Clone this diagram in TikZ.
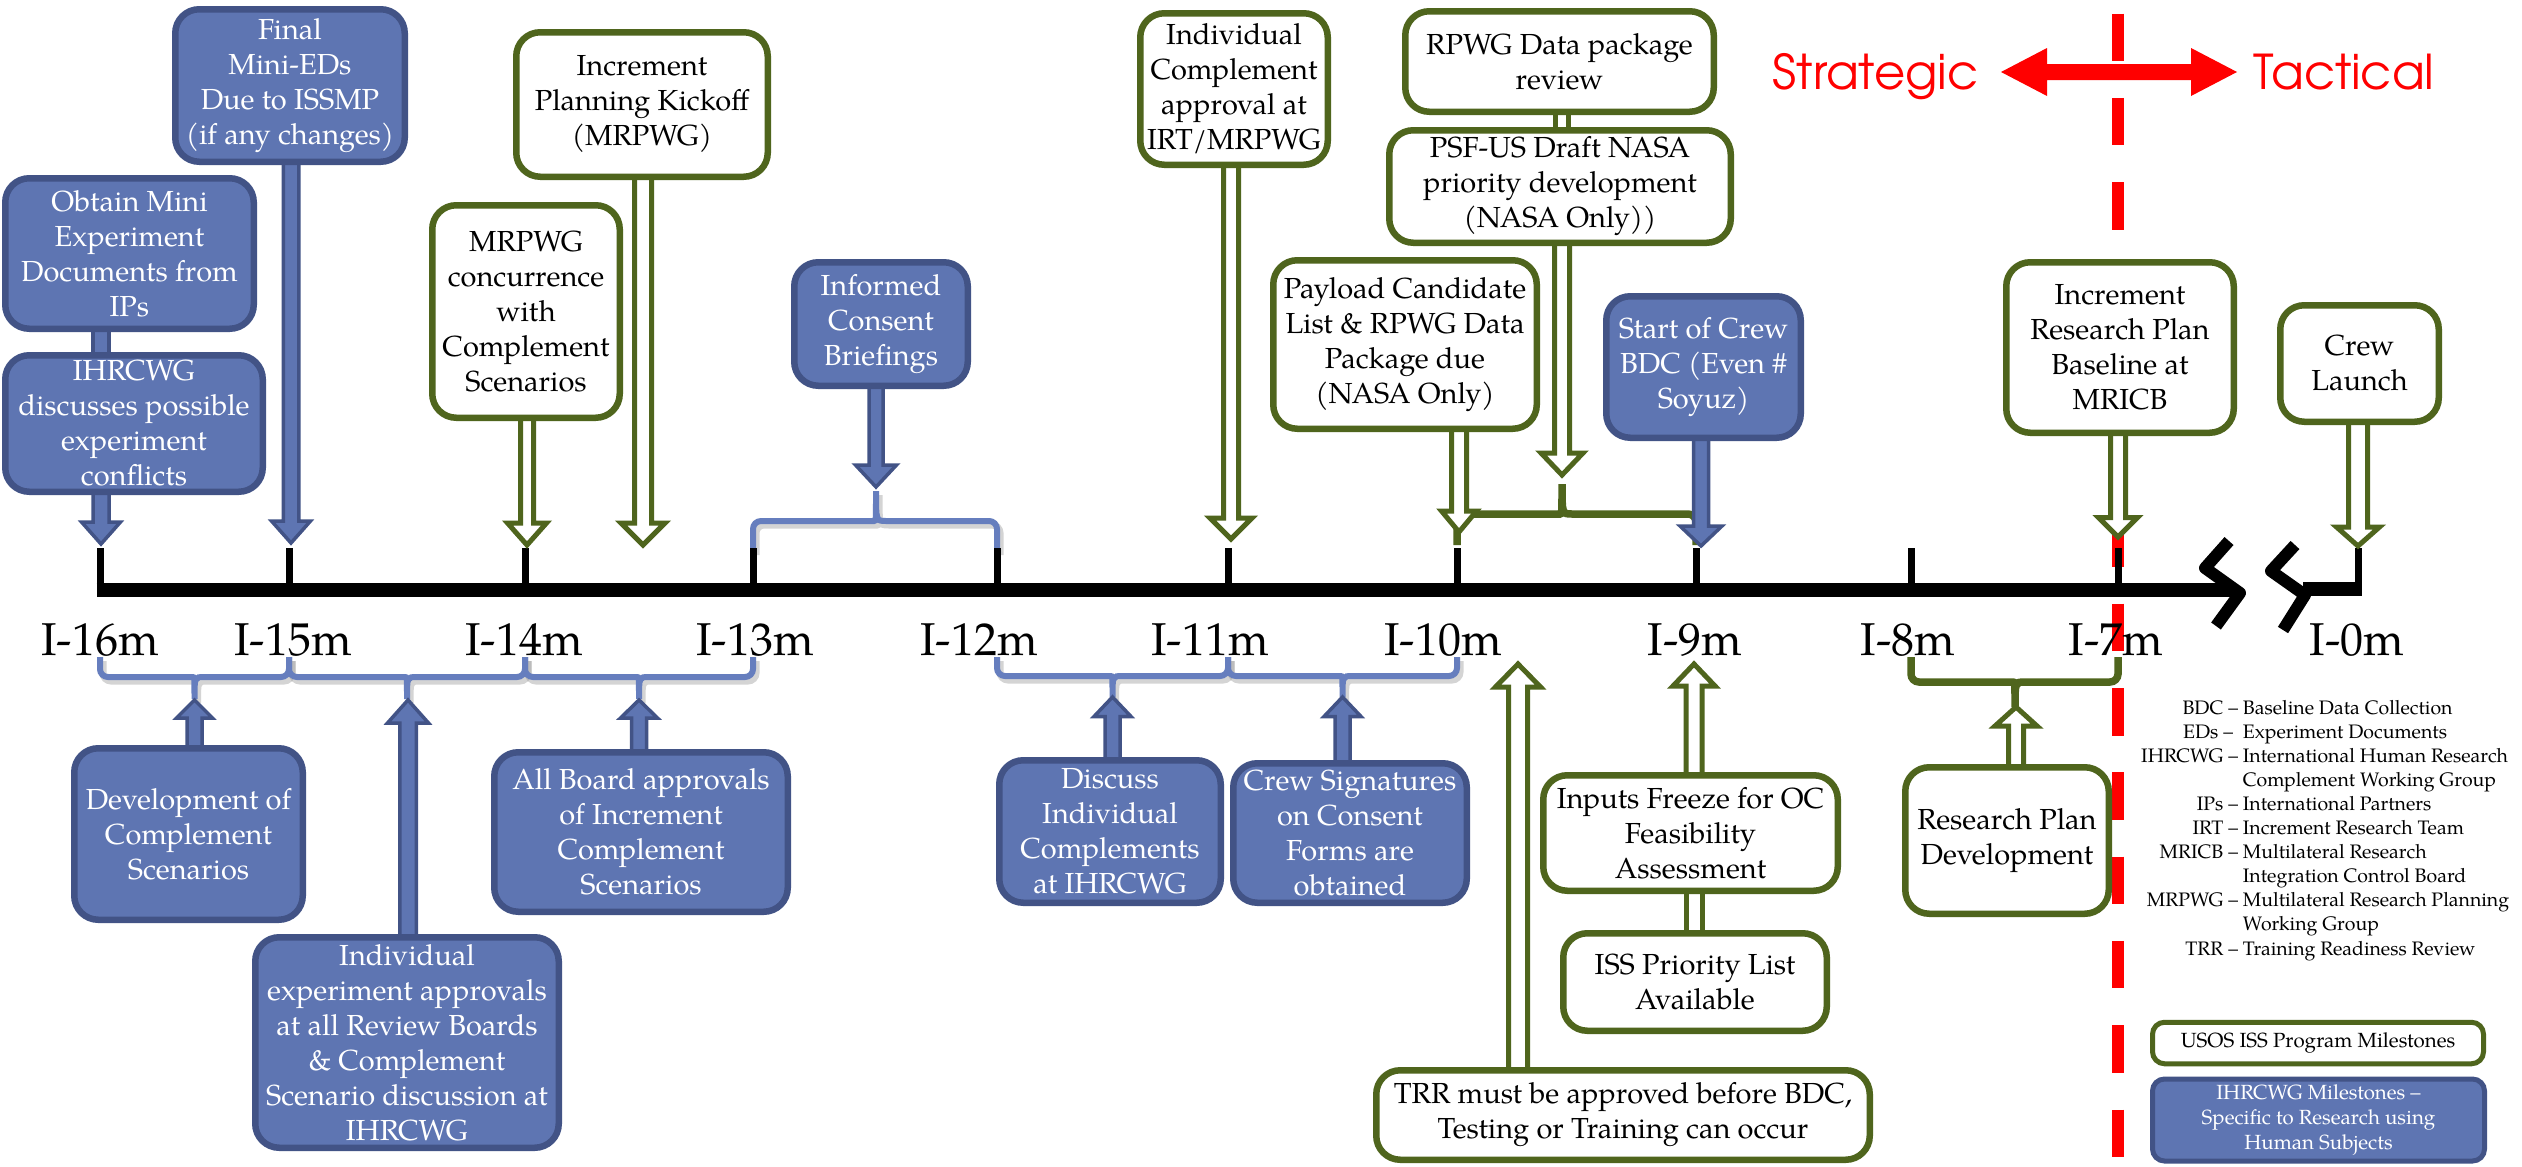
\documentclass[tikz,border=0pt]{standalone}
\usepackage{fontspec}
\setmainfont{TeX Gyre Pagella}
\newfontfamily\gothicfont{TeX Gyre Adventor}
\usetikzlibrary{calc}
\pgfdeclarelayer{bg}
\pgfdeclarelayer{mid}
\pgfsetlayers{bg,mid,main}
\definecolor{bfill}{RGB}{94,117,178}
\definecolor{bline}{RGB}{66,83,134}
\definecolor{bbrace}{RGB}{102,126,190}
\definecolor{gline}{RGB}{79,101,29}
\definecolor{bshadow}{RGB}{160,160,160}

% vertical block arrows: [style]{start}{tip}{shaft half width}{head half width}{head length}
\newcommand\blkdown[6][]{%
  \draw[#1] let \p1=(#2), \p2=(#3) in
    (\x2-#4,\y1) -- (\x2-#4,\y2+#6) -- (\x2-#5,\y2+#6) -- (\x2,\y2)
    -- (\x2+#5,\y2+#6) -- (\x2+#4,\y2+#6) -- (\x2+#4,\y1) -- cycle;}
\newcommand\blkup[6][]{%
  \draw[#1] let \p1=(#2), \p2=(#3) in
    (\x2-#4,\y1) -- (\x2-#4,\y2-#6) -- (\x2-#5,\y2-#6) -- (\x2,\y2)
    -- (\x2+#5,\y2-#6) -- (\x2+#4,\y2-#6) -- (\x2+#4,\y1) -- cycle;}
% plain shaft joining two stacked boxes: [style]{upper}{lower}{x reference}{half width}
\newcommand\boxlink[5][]{%
  \draw[#1] let \p1=(#2), \p2=(#3), \p3=(#4) in (\x3-#5,\y1) rectangle (\x3+#5,\y2);}
% horizontal brace: [style]{x1}{x2}{x of pip}{y of ends}{y of bar}{y of pip}
\newcommand\bracepath[7][]{%
  \draw[#1,rounded corners=8pt] (#2,#5) -- (#2,#6) -- ({#4-10},#6)
    [sharp corners] .. controls (#4,#6) .. (#4,#7) .. controls (#4,#6) .. ({#4+10},#6)
    [rounded corners=8pt] -- (#3,#6) -- (#3,#5);}

\begin{document}
\begin{tikzpicture}[x=1pt,y=-1pt,
  box/.style={rounded corners=24pt, line width=6.5pt, align=center, inner sep=0pt,
    font=\fontsize{29}{35}\selectfont},
  bbox/.style={box, draw=bline, fill=bfill, text=white},
  gbox/.style={box, draw=gline, fill=white, text=black},
  legbox/.style={rounded corners=12pt, line width=5pt, align=center, inner sep=0pt,
    font=\fontsize{20.5}{25.3}\selectfont},
  barrow/.style={draw=bline, fill=bfill, line width=3.5pt, line join=miter},
  garrow/.style={draw=gline, fill=white, line width=5pt, line join=miter},
  bbr/.style={draw=bbrace, line width=6pt},
  bbrshadow/.style={draw=bshadow, line width=7pt, opacity=0.45, shift={(3,4)}},
  gbr/.style={draw=gline, line width=7.5pt},
  tickline/.style={line width=7pt},
  axislabel/.style={font=\fontsize{46}{46}\selectfont, anchor=base, inner sep=0pt},
  sidelabel/.style={font=\gothicfont\fontsize{48}{48}\selectfont, text=red, anchor=base west, inner sep=0pt},
]
\useasboundingbox (0,0) rectangle (2522,1167);

% ---------- milestone boxes above the time line ----------
\node[bbox, minimum width=248.5, minimum height=150.5] (obtain) at (129.5,253.5)
  {Obtain Mini\\Experiment\\Documents from\\IPs};
\node[bbox, minimum width=257.5, minimum height=136.5] (ihrc) at (134,423.5)
  {IHRCWG\\discusses possible\\experiment\\conflicts};
\node[bbox, minimum width=229.5, minimum height=152.5] (final) at (290,85.5)
  {Final\\Mini-EDs\\Due to ISSMP\\(if any changes)};
\node[gbox, minimum width=187.5, minimum height=212.5] (mrpwg) at (526,311.5)
  {MRPWG\\concurrence\\with\\Complement\\Scenarios};
\node[gbox, minimum width=251.5, minimum height=144.5] (kickoff) at (642,104.5)
  {Increment\\Planning Kickoff\\(MRPWG)};
\node[bbox, minimum width=173.5, minimum height=123.5] (informed) at (881,324)
  {Informed\\Consent\\Briefings};
\node[gbox, minimum width=187.5, minimum height=151.5] (indcomp) at (1234,89)
  {Individual\\Complement\\approval at\\IRT/MRPWG};
\node[gbox, minimum width=308.5, minimum height=100.5] (rpwg) at (1559.5,61.5)
  {RPWG Data package\\review};
\node[gbox, minimum width=341.5, minimum height=112.5] (psf) at (1560,186.5)
  {PSF-US Draft NASA\\priority development\\(NASA Only))};
\node[gbox, minimum width=263.5, minimum height=168.5] (payload) at (1405,344.5)
  {Payload Candidate\\List \& RPWG Data\\Package due\\(NASA Only)};
\node[bbox, minimum width=194.5, minimum height=141.5] (crewbdc) at (1703.5,367)
  {Start of Crew\\BDC (Even \#\\Soyuz)};
\node[gbox, minimum width=227.5, minimum height=170.5] (irp) at (2120,347.5)
  {Increment\\Research Plan\\Baseline at\\MRICB};
\node[gbox, minimum width=158.5, minimum height=116.5] (launch) at (2359.5,363.5)
  {Crew\\Launch};

% ---------- milestone boxes below the time line ----------
\node[bbox, minimum width=228.5, minimum height=171.5] (devel) at (188.5,834)
  {Development of\\Complement\\Scenarios};
\node[bbox, minimum width=303.5, minimum height=210.5] (indiv) at (407,1042.5)
  {Individual\\experiment approvals\\at all Review Boards\\\& Complement\\Scenario discussion at\\IHRCWG};
\node[bbox, minimum width=293.5, minimum height=159.5] (allboard) at (641,832)
  {All Board approvals\\of Increment\\Complement\\Scenarios};
\node[bbox, minimum width=221.5, minimum height=142.5] (discuss) at (1110,831.5)
  {Discuss\\Individual\\Complements\\at IHRCWG};
\node[bbox, minimum width=233.5, minimum height=139.5] (crewsig) at (1350,833)
  {Crew Signatures\\on Consent\\Forms are\\obtained};
\node[gbox, minimum width=294.5, minimum height=115.5] (inputs) at (1690.5,833)
  {Inputs Freeze for OC\\Feasibility\\Assessment};
\node[gbox, minimum width=263.5, minimum height=97.5] (iss) at (1695,982)
  {ISS Priority List\\Available};
\node[gbox, minimum width=493.5, minimum height=89.5] (trr) at (1623,1115)
  {TRR must be approved before BDC,\\Testing or Training can occur};
\node[gbox, minimum width=203.5, minimum height=146.5] (rpd) at (2007,840.5)
  {Research Plan\\Development};

% ---------- arrow tips on the time line ----------
\coordinate (p16) at (101,544);
\coordinate (p15) at (291,543);
\coordinate (p14) at (527,545);
\coordinate (kick) at (643,545);
\coordinate (pIC) at (876,487);
\coordinate (p11) at (1231,539);
\coordinate (pPL) at (1459,532);
\coordinate (pPSF) at (1562,475);
\coordinate (pBDC) at (1701,546);
\coordinate (pIRP) at (2118,537);
\coordinate (p0) at (2358,546);
\coordinate (uDev) at (194.5,700);
\coordinate (uInd) at (408,700);
\coordinate (uAll) at (639,700);
\coordinate (uDis) at (1112.5,697);
\coordinate (uSig) at (1342.5,697);
\coordinate (uTRR) at (1518,664);
\coordinate (uInp) at (1694,664);
\coordinate (uRPD) at (2016,707);

\begin{pgfonlayer}{mid}
  % blue milestone arrows
  \boxlink[barrow]{obtain.center}{ihrc.center}{p16}{8pt}
  \blkdown[barrow]{ihrc.center}{p16}{8pt}{19.5pt}{22pt}
  \blkdown[barrow]{final.center}{p15}{7.75pt}{19.5pt}{22pt}
  \blkdown[barrow]{informed.center}{pIC}{7pt}{20.5pt}{22pt}
  \blkdown[barrow]{crewbdc.center}{pBDC}{7.5pt}{21pt}{20pt}
  \blkup[barrow]{devel.center}{uDev}{7.5pt}{18pt}{18pt}
  \blkup[barrow]{indiv.center}{uInd}{8.25pt}{20.5pt}{23pt}
  \blkup[barrow]{allboard.center}{uAll}{7.5pt}{18.5pt}{18pt}
  \blkup[barrow]{discuss.center}{uDis}{7.5pt}{18.5pt}{19.5pt}
  \blkup[barrow]{crewsig.center}{uSig}{7.5pt}{18.5pt}{19.5pt}
  % green hollow milestone arrows
  \blkdown[garrow]{mrpwg.center}{p14}{6.5pt}{19.5pt}{22pt}
  \blkdown[garrow]{kickoff.center}{kick}{8.5pt}{22pt}{22pt}
  \blkdown[garrow]{indcomp.center}{p11}{7.5pt}{21pt}{21pt}
  \boxlink[garrow]{rpwg.center}{psf.center}{pPSF}{6.5pt}
  \blkdown[garrow]{psf.center}{pPSF}{7.5pt}{21pt}{22pt}
  \blkdown[garrow]{payload.center}{pPL}{7.5pt}{17.5pt}{21pt}
  \blkdown[garrow]{irp.center}{pIRP}{7.5pt}{19.5pt}{19.5pt}
  \blkdown[garrow]{launch.center}{p0}{9.5pt}{21.5pt}{19pt}
  \blkup[garrow]{trr.center}{uTRR}{9.5pt}{22.5pt}{23pt}
  \boxlink[garrow]{inputs.center}{iss.center}{uInp}{8pt}
  \blkup[garrow]{inputs.center}{uInp}{8pt}{21pt}{22pt}
  \blkup[garrow]{rpd.center}{uRPD}{7.5pt}{21pt}{19pt}
\end{pgfonlayer}

\begin{pgfonlayer}{bg}
  \fill[white] (0,0) rectangle (2522,1167);
  % strategic / tactical divider
  \draw[red, line width=12pt, dash pattern=on 47.5pt off 36.8pt] (2118,13.6) -- (2118,1167);
  % braces grouping month spans
  \foreach \a/\b/\m in {100/289/194.5, 289/525/407, 525/753/639} {
    \bracepath[bbrshadow]{\a}{\b}{\m}{657}{677}{699}
    \bracepath[bbr]{\a}{\b}{\m}{657}{677}{699}
  }
  \foreach \a/\b/\m in {997/1228/1112.5, 1228/1457/1342.5} {
    \bracepath[bbrshadow]{\a}{\b}{\m}{657}{676}{697}
    \bracepath[bbr]{\a}{\b}{\m}{657}{676}{697}
  }
  \bracepath[bbrshadow]{753}{997}{876}{551}{521}{491}
  \bracepath[bbr]{753}{997}{876}{551}{521}{491}
  \bracepath[gbr]{1457}{1696}{1562}{545}{514}{484}
  \bracepath[gbr]{1911}{2118}{2015}{657}{682}{707}
  % time line
  \draw[line width=14pt] (96.5,590) -- (2236,590);
  \draw[line width=14pt] (2303,589) -- (2361.5,589);
  \foreach \t in {100,289,525,753,997,1228,1457,1696,1911,2118,2358}
    \draw[tickline] (\t,548) -- (\t,586);
  \draw[line width=12pt, line join=round] (2229,541) -- (2205,568) -- (2240,593) -- (2216,626);
  \draw[line width=12pt, line join=round] (2295,545) -- (2271,571) -- (2305,595) -- (2283,630);
\end{pgfonlayer}

% month labels
\foreach \x/\s/\n in {100/16/m16, 293/15/m15, 524/14/m14, 755/13/m13, 979/12/m12,
    1210/11/m11, 1443/10/m10, 1695/9/m9, 1908/8/m8, 2116/7/m7, 2357/0/m0}
  \node[axislabel] (\n) at (\x,655) {I-\s m};

% strategic / tactical header
\node[sidelabel] (strat) at (1772,89) {Strategic};
\node[sidelabel] (tact) at (2253,89) {Tactical};
\fill[red] (2001,72) -- (2047,48) -- (2047,64) -- (2191,64) -- (2191,48) -- (2237,72)
  -- (2191,96) -- (2191,80) -- (2047,80) -- (2047,96) -- cycle;

% abbreviations
\node[anchor=north west, inner sep=0pt, font=\fontsize{19.5}{24.1}\selectfont] (abbr) at (2141,697)
  {\begin{tabular}{@{}r@{\ }l@{}}
   BDC – & Baseline Data Collection\\
   EDs –\hspace{5pt} & Experiment Documents\\
   IHRCWG – & International Human Research\\
            & Complement Working Group\\
   IPs – & International Partners\\
   IRT – & Increment Research Team\\
   MRICB – & Multilateral Research\\
           & Integration Control Board\\
   MRPWG – & Multilateral Research Planning\\
           & Working Group\\
   TRR – & Training Readiness Review
   \end{tabular}};

% key
\node[legbox, draw=gline, fill=white, minimum width=331, minimum height=41.5] (keyg) at (2318,1043)
  {USOS ISS Program Milestones};
\node[legbox, draw=bline, fill=bfill, text=white, minimum width=332, minimum height=82] (keyb) at (2318.5,1120)
  {IHRCWG Milestones –\\Specific to Research using\\Human Subjects};
\end{tikzpicture}
\end{document}
